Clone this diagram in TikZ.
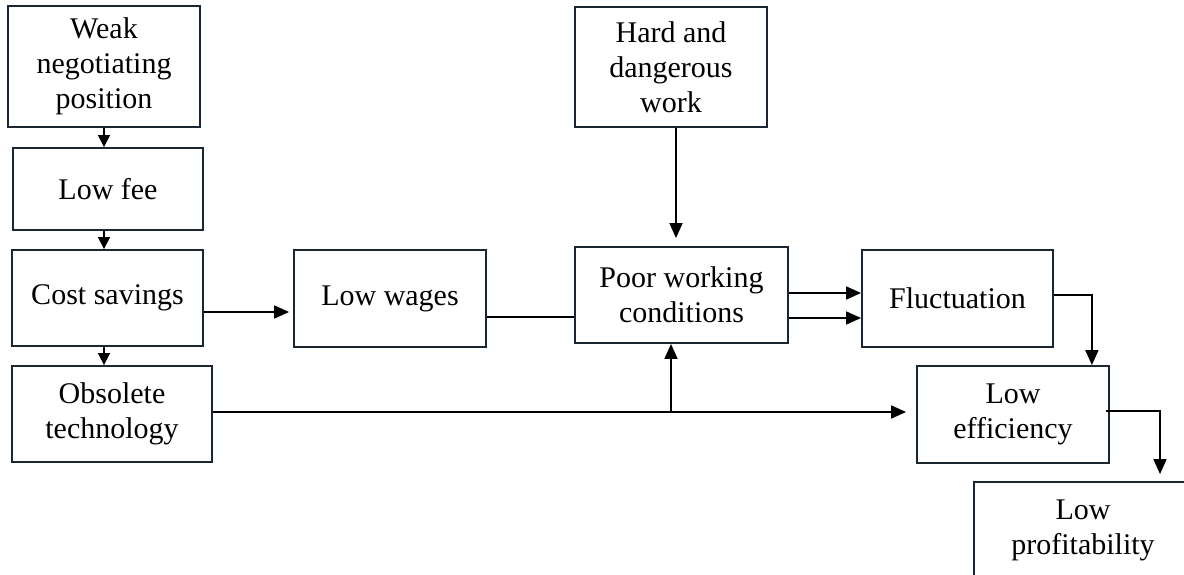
\documentclass[tikz,border=0pt]{standalone}
\usepackage{fontspec}
\setmainfont{Liberation Serif}
\usetikzlibrary{arrows.meta,positioning,calc}
\definecolor{boxline}{HTML}{1B2633}

\begin{document}
\begin{tikzpicture}[
    x=1pt, y=-1pt,
    every node/.style={font=\fontsize{30}{35}\selectfont},
    box/.style={rectangle, draw=boxline, line width=1.8pt, align=center,
                inner sep=0pt, minimum width=192pt, minimum height=97pt},
    arr/.style={-{Triangle[length=15pt, width=13pt]}, line width=1.6pt},
    sarr/.style={-{Triangle[length=12pt, width=12pt]}, line width=1.6pt},
    ln/.style={line width=1.6pt},
]
\useasboundingbox (0,0) rectangle (1184,575);

% Left column
\node[box, minimum height=121pt] (weak) at (104,66.5) {Weak\\negotiating\\position};
\node[box, minimum width=190pt, minimum height=82pt] (fee) at (108,189) {Low fee};
\node[box, minimum width=191pt, minimum height=96pt] (cost) at (107.5,298) {Cost savings};
\node[box, minimum width=200pt, minimum height=96pt] (obs) at (112,414) {Obsolete\\technology};

% Middle and right
\node[box] (wages) at (390,298.5) {Low wages};
\node[box, minimum height=120pt] (hard) at (671,67) {Hard and\\dangerous\\work};
\node[box, minimum width=213pt, minimum height=96pt] (poor) at (681.5,295) {Poor working\\conditions};
\node[box, minimum width=191pt] (fluct) at (957.5,298.5) {Fluctuation};
\node[box] (eff) at (1013,414.5) {Low\\efficiency};
\node[box, minimum width=218pt] (profit) at (1083,530.5) {Low\\profitability};

% Junction on the bottom line
\coordinate (jn) at (671,412);

% Arrows
\draw[sarr] (weak.south) -- (weak.south |- fee.north);
\draw[sarr] (fee.south -| weak.south) -- (cost.north -| weak.south);
\draw[sarr] (cost.south -| weak.south) -- (obs.north -| weak.south);
\draw[arr] ([yshift=-14pt]cost.east) -- ([yshift=-14pt, xshift=-4pt]cost.east -| wages.west);
\draw[ln]  ([yshift=-18.5pt]wages.east) -- ([yshift=-18.5pt]wages.east -| poor.west);
\draw[arr] ([xshift=5pt]hard.south) -- ([xshift=5pt, yshift=8pt]hard.south |- poor.north);
\draw[arr] ([yshift=2pt]poor.east) -- ([yshift=2pt]poor.east -| fluct.west);
\draw[arr] ([yshift=-23pt]poor.east) -- ([yshift=-23pt]poor.east -| fluct.west);
\draw[arr] (obs.east |- jn) -- ([xshift=-10pt]eff.west |- jn);
\draw[arr] (jn) -- (jn |- poor.south);
\draw[arr] ([yshift=3.5pt]fluct.east) -| ([xshift=-18pt]eff.north east);
\draw[arr] ([xshift=-4pt, yshift=3.5pt]eff.east) -| ([yshift=7pt]profit.north -| 1160,0);

\end{tikzpicture}
\end{document}
